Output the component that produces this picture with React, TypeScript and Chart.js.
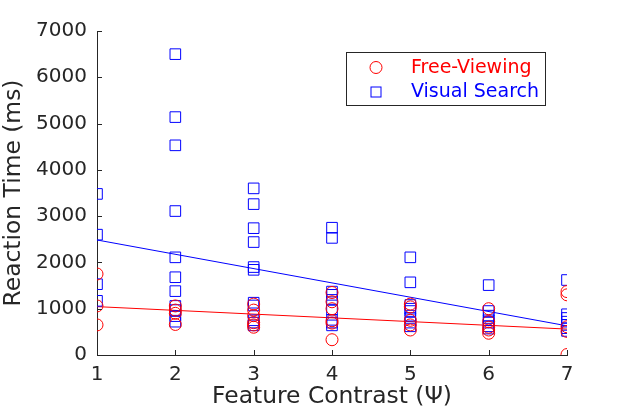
import React, { useEffect, useRef } from "react";
import { Chart, registerables } from "chart.js";

Chart.register(...registerables);

const contrastLevels = [1, 2, 3, 4, 5, 6, 7];

const freeViewingRT = [
  [1750, 1060, 650],
  [1060, 970, 900, 660],
  [1100, 970, 850, 700, 650, 600],
  [1350, 1150, 1000, 740, 690, 330],
  [1100, 1040, 750, 650, 540],
  [1000, 720, 600, 540, 470],
  [1370, 1300, 610, 510, 10],
];

const visualSearchRT = [
  [3480, 2600, 1530, 1170],
  [6500, 5140, 4530, 3110, 2110, 1680, 1380, 1060, 970, 840, 720],
  [3600, 3260, 2740, 2440, 1900, 1840, 1130, 1070, 750, 700, 640],
  [2750, 2530, 1370, 1300, 1190, 980, 760, 700, 640],
  [2110, 1570, 1080, 1000, 950, 800, 700, 620],
  [1510, 950, 850, 750, 700, 620, 570],
  [1620, 880, 800, 720, 650, 580, 520],
];

const freeViewingFit = [1045, 560];
const visualSearchFit = [2485, 630];

const yTicks = [0, 1000, 2000, 3000, 4000, 5000, 6000, 7000];

const seriesLabels = ["Free-Viewing", "Visual Search"];

const RED = "rgb(255,0,0)";
const BLUE = "rgb(0,0,255)";
const AXIS = "#262626";

function toPoints(levels: number[], groups: number[][]) {
  const pts: { x: number; y: number }[] = [];
  groups.forEach((g, i) => g.forEach((v) => pts.push({ x: levels[i], y: v })));
  return pts;
}

const tickMarksPlugin = {
  id: "tickMarks",
  afterDraw(chart: any) {
    const { ctx, scales } = chart;
    const xs = scales.x;
    const ys = scales.y;
    const area = chart.chartArea;
    ctx.save();
    ctx.strokeStyle = AXIS;
    ctx.lineWidth = 1;
    ctx.beginPath();
    contrastLevels.forEach((v) => {
      const px = Math.round(xs.getPixelForValue(v)) + 0.5;
      ctx.moveTo(px, area.bottom);
      ctx.lineTo(px, area.bottom - 5);
    });
    yTicks.forEach((v) => {
      const py = Math.round(ys.getPixelForValue(v)) + 0.5;
      ctx.moveTo(area.left, py);
      ctx.lineTo(area.left + 5, py);
    });
    ctx.stroke();
    ctx.restore();
  },
};

const legendPlugin = {
  id: "boxLegend",
  afterDraw(chart: any) {
    const { ctx } = chart;
    ctx.save();
    const bx = 346.5, by = 52.5, bw = 199, bh = 53;
    ctx.fillStyle = "#ffffff";
    ctx.fillRect(bx, by, bw, bh);
    ctx.strokeStyle = AXIS;
    ctx.lineWidth = 1;
    ctx.strokeRect(bx, by, bw, bh);
    ctx.strokeStyle = RED;
    ctx.beginPath();
    ctx.arc(376, 67.5, 6, 0, Math.PI * 2);
    ctx.stroke();
    ctx.strokeStyle = BLUE;
    ctx.strokeRect(371, 87, 10, 10);
    ctx.font = "19px 'DejaVu Sans'";
    ctx.textBaseline = "middle";
    ctx.textAlign = "left";
    ctx.fillStyle = RED;
    ctx.fillText(seriesLabels[0], 411, 68);
    ctx.fillStyle = BLUE;
    ctx.fillText(seriesLabels[1], 411, 92);
    ctx.restore();
  },
};

export default function App() {
  const ref = useRef<HTMLCanvasElement | null>(null);

  useEffect(() => {
    document.body.style.margin = "0";
    const canvas = ref.current;
    if (!canvas) return;
    const first = contrastLevels[0];
    const last = contrastLevels[contrastLevels.length - 1];
    const chart = new Chart(canvas, {
      type: "scatter",
      data: {
        datasets: [
          {
            label: seriesLabels[0],
            data: toPoints(contrastLevels, freeViewingRT),
            pointStyle: "circle",
            radius: 6,
            borderColor: RED,
            backgroundColor: "transparent",
            borderWidth: 1,
          },
          {
            label: seriesLabels[1],
            data: toPoints(contrastLevels, visualSearchRT),
            pointStyle: "rect",
            radius: 7.5,
            borderColor: BLUE,
            backgroundColor: "transparent",
            borderWidth: 1,
          },
          {
            type: "line",
            label: "fit-fv",
            data: [
              { x: first, y: freeViewingFit[0] },
              { x: last, y: freeViewingFit[1] },
            ],
            borderColor: RED,
            borderWidth: 1,
            pointRadius: 0,
            showLine: true,
            fill: false,
          } as any,
          {
            type: "line",
            label: "fit-vs",
            data: [
              { x: first, y: visualSearchFit[0] },
              { x: last, y: visualSearchFit[1] },
            ],
            borderColor: BLUE,
            borderWidth: 1,
            pointRadius: 0,
            showLine: true,
            fill: false,
          } as any,
        ],
      },
      options: {
        responsive: false,
        animation: false,
        devicePixelRatio: 1,
        layout: { padding: { top: 31, right: 58, left: 0, bottom: 0 } },
        plugins: {
          legend: { display: false },
          tooltip: { enabled: false },
        },
        scales: {
          x: {
            type: "linear",
            min: 1,
            max: 7,
            afterFit: (s: any) => {
              s.height = 62;
            },
            afterBuildTicks: (s: any) => {
              s.ticks = contrastLevels.map((v) => ({ value: v }));
            },
            grid: { display: true, drawOnChartArea: false, drawTicks: false },
            border: { display: true, color: AXIS, width: 1 },
            ticks: {
              padding: 8,
              color: AXIS,
              font: { family: "'DejaVu Sans'", size: 20 },
              maxRotation: 0,
              callback: (v: any) => String(v),
            },
            title: {
              display: true,
              text: "Feature Contrast (Ψ)",
              color: AXIS,
              font: { family: "'DejaVu Sans'", size: 23.4 },
              padding: { top: 0, bottom: 6 },
            },
          },
          y: {
            type: "linear",
            min: 0,
            max: 7000,
            afterFit: (s: any) => {
              s.width = 97;
            },
            afterBuildTicks: (s: any) => {
              s.ticks = yTicks.map((v) => ({ value: v }));
            },
            grid: { display: true, drawOnChartArea: false, drawTicks: false },
            border: { display: true, color: AXIS, width: 1 },
            ticks: {
              padding: 10,
              color: AXIS,
              font: { family: "'DejaVu Sans'", size: 20 },
              callback: (v: any) => String(v),
            },
            title: {
              display: true,
              text: "Reaction Time (ms)",
              color: AXIS,
              font: { family: "'DejaVu Sans'", size: 23.4 },
              padding: { top: 0, bottom: 0 },
            },
          },
        },
      },
      plugins: [tickMarksPlugin, legendPlugin],
    });
    return () => chart.destroy();
  }, []);

  return (
    <div style={{ position: "absolute", left: 0, top: 0, width: 625, height: 417, background: "#fff" }}>
      <canvas ref={ref} width={625} height={417} style={{ width: 625, height: 417 }} />
    </div>
  );
}
